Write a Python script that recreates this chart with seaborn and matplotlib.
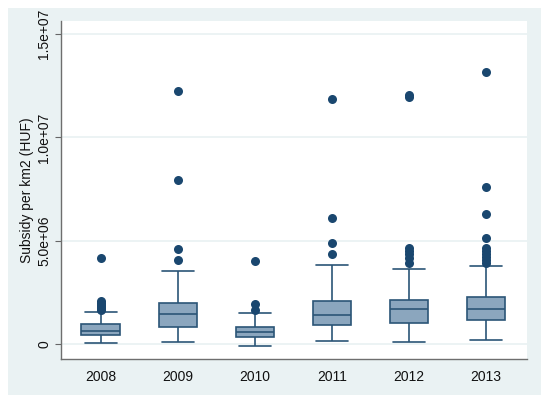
import pandas as pd
import matplotlib.pyplot as plt
import matplotlib.patches as mpatches
import seaborn as sns

# valores (HUF por km2)
years = ['2008', '2009', '2010', '2011', '2012', '2013']
whisker_low = [48e3, 97e3, -113e3, 113e3, 81e3, 163e3]
q1 = [430e3, 824e3, 307e3, 889e3, 1.02e6, 1.14e6]
median = [625e3, 1.45e6, 566e3, 1.39e6, 1.66e6, 1.66e6]
q3 = [965e3, 1.97e6, 824e3, 2.07e6, 2.10e6, 2.27e6]
whisker_high = [1.54e6, 3.51e6, 1.50e6, 3.80e6, 3.62e6, 3.77e6]
outliers = {
    '2008': [1.63e6, 1.72e6, 1.80e6, 1.88e6, 1.96e6, 2.05e6, 4.17e6],
    '2009': [4.06e6, 4.57e6, 7.93e6, 12.27e6],
    '2010': [1.63e6, 1.91e6, 3.99e6],
    '2011': [4.35e6, 4.86e6, 6.11e6, 11.85e6],
    '2012': [3.92e6, 4.15e6, 4.35e6, 4.50e6, 4.62e6, 11.97e6, 12.05e6],
    '2013': [3.93e6, 4.05e6, 4.20e6, 4.35e6, 4.50e6, 4.62e6, 5.12e6, 6.30e6, 7.61e6, 13.19e6],
}
ytick_vals = [0, 5e6, 1e7, 1.5e7]
ytick_labels = ['0', '5.0e+06', '1.0e+07', '1.5e+07']

# tabela longa: cinco valores por ano dao exatamente os quartis
rows = []
for i, y in enumerate(years):
    for v in (whisker_low[i], q1[i], median[i], q3[i], whisker_high[i]):
        rows.append({'year': y, 'value': v})
box_df = pd.DataFrame(rows)
out_df = pd.DataFrame([{'year': y, 'value': v} for y in years for v in outliers[y]])

sns.set_style('white')
plt.rcParams['font.family'] = ['Liberation Sans', 'DejaVu Sans']
plt.rcParams['text.color'] = '#111111'
plt.rcParams['axes.labelcolor'] = '#111111'
plt.rcParams['xtick.color'] = '#111111'
plt.rcParams['ytick.color'] = '#111111'

navy = '#1a476f'
edge = '#2b5577'
fill = '#8ba6be'
panel = '#eaf2f3'

fig = plt.figure(figsize=(5.5, 4.05), dpi=100)
fig.patch.set_facecolor('white')
bg = mpatches.Rectangle((8 / 550, 10 / 405), 533 / 550, 387 / 405,
                        transform=fig.transFigure, facecolor=panel,
                        edgecolor='none', zorder=-10)
fig.add_artist(bg)
ax = fig.add_axes([61 / 550, 46 / 405, 466 / 550, 338 / 405])
ax.set_zorder(1)
ax.set_facecolor('white')

ax.grid(axis='y', color=panel, linewidth=1.3)
ax.set_axisbelow(True)

sns.boxplot(data=box_df, x='year', y='value', order=years, whis=(0, 100), width=0.5,
            color=fill, linecolor=edge, linewidth=1.2, saturation=1,
            showfliers=False, capwidths=0.42, ax=ax)
sns.stripplot(data=out_df, x='year', y='value', order=years, jitter=False,
              color=navy, size=6.5, linewidth=0, ax=ax, zorder=3)

ax.set_xlim(-0.515, 5.53)
ax.set_ylim(-0.742e6, 15.64e6)
ax.set_yticks(ytick_vals)
ax.set_yticklabels(ytick_labels, rotation=90, va='center')
ax.set_xlabel('')
ax.set_ylabel('Subsidy per km2 (HUF)', fontsize=10, labelpad=2)

ax.tick_params(axis='y', length=4, width=0.8, color='#666666', pad=3, labelsize=10,
               left=True)
ax.tick_params(axis='x', length=0, pad=8, labelsize=10)

for side in ['top', 'right']:
    ax.spines[side].set_visible(False)
for side in ['left', 'bottom']:
    ax.spines[side].set_color('#6e6e6e')
    ax.spines[side].set_linewidth(1.0)

fig.savefig('out.png', dpi=100, facecolor='white')
